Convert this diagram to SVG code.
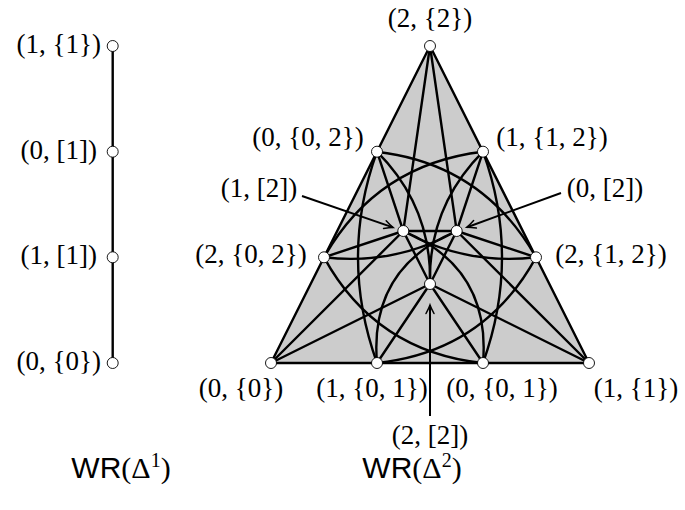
<svg xmlns="http://www.w3.org/2000/svg" width="685" height="510" viewBox="0 0 685 510">
<defs>
<style>
.e{fill:none;stroke:#000;stroke-width:2.4;stroke-linecap:round;stroke-linejoin:round}
.n{fill:#fff;stroke:#000;stroke-width:0.9}
.t{font-family:"Liberation Serif","Times New Roman",serif;font-size:27px;fill:#000;text-anchor:middle}
.w{font-size:30px}
.s{font-family:"Liberation Sans",Arial,sans-serif}
.a{fill:none;stroke:#000;stroke-width:2}
</style>
<marker id="arr" markerUnits="userSpaceOnUse" markerWidth="14" markerHeight="12" viewBox="-10 -6 12 12" refX="0" refY="0" orient="auto">
<path d="M-8.5,-4 Q-3,-1 0,0 Q-3,1 -8.5,4" fill="none" stroke="#000" stroke-width="1.5" stroke-linecap="round"/>
</marker>
</defs>
<rect width="685" height="510" fill="#fff"/>
<polygon id="face" points="271,363 589,363 430,46" fill="#cccccc"/>
<g id="connectors">
<path class="e" d="M112.7,46 L112.7,363"/>
<path class="e" d="M271,363 L589,363"/>
<path class="e" d="M271,363 L430,46"/>
<path class="e" d="M589,363 L430,46"/>
<path class="e" d="M403.3,231 L456.7,231"/>
<path class="e" d="M403.3,231 L430,284"/>
<path class="e" d="M456.7,231 L430,284"/>
<path class="e" d="M271,363 L403.3,231"/>
<path class="e" d="M271,363 L430,284"/>
<path class="e" d="M589,363 L456.7,231"/>
<path class="e" d="M589,363 L430,284"/>
<path class="e" d="M430,46 L403.3,231"/>
<path class="e" d="M430,46 L456.7,231"/>
<path class="e" d="M377,151.7 L403.3,231"/>
<path class="e" d="M483,151.7 L456.7,231"/>
<path class="e" d="M324,257.3 L403.3,231"/>
<path class="e" d="M536,257.3 L456.7,231"/>
<path class="e" d="M377,363 L430,284"/>
<path class="e" d="M483,363 L430,284"/>
<path class="e" d="M377,151.7 Q432,207 430,284"/>
<path class="e" d="M483,151.7 Q428,207 430,284"/>
<path class="e" d="M377,363 Q368.9,268 456.7,231"/>
<path class="e" d="M483,363 Q491.1,268 403.3,231"/>
<path class="e" d="M324,257.3 Q394.6,265.6 456.7,231"/>
<path class="e" d="M536,257.3 Q465.4,265.6 403.3,231"/>
<path class="e" d="M377,151.7 Q339,257.3 377,363"/>
<path class="e" d="M483,151.7 Q521,257.3 483,363"/>
<path class="e" d="M377,151.7 Q483.1,164.1 536,257.3"/>
<path class="e" d="M483,151.7 Q376.9,164.1 324,257.3"/>
<path class="e" d="M377,363 Q484.25,351.6 536,257.3"/>
<path class="e" d="M483,363 Q375.75,351.6 324,257.3"/>
<path class="a" d="M302,196 L392.9,227.4" marker-end="url(#arr)"/>
<path class="a" d="M561,193 L467,227.2" marker-end="url(#arr)"/>
<path class="a" d="M430,416 L430,305" marker-end="url(#arr)"/>
</g>
<g id="L_1_1"><circle class="n" cx="112.7" cy="46" r="5.5"/><text class="t" x="58.7" y="53">(1, {1})</text></g>
<g id="L_0_b1"><circle class="n" cx="112.7" cy="151.7" r="5.5"/><text class="t" x="58.7" y="159">(0, [1])</text></g>
<g id="L_1_b1"><circle class="n" cx="112.7" cy="257.3" r="5.5"/><text class="t" x="58.7" y="264">(1, [1])</text></g>
<g id="L_0_0"><circle class="n" cx="112.7" cy="363" r="5.5"/><text class="t" x="58.7" y="370">(0, {0})</text></g>
<g id="n_2_2"><circle class="n" cx="430" cy="46" r="5.5"/><text class="t" x="430" y="27">(2, {2})</text></g>
<g id="n_0_02"><circle class="n" cx="377" cy="151.7" r="5.5"/><text class="t" x="308" y="146">(0, {0, 2})</text></g>
<g id="n_1_12"><circle class="n" cx="483" cy="151.7" r="5.5"/><text class="t" x="552" y="146">(1, {1, 2})</text></g>
<g id="n_2_02"><circle class="n" cx="324" cy="257.3" r="5.5"/><text class="t" x="251" y="263">(2, {0, 2})</text></g>
<g id="n_2_12"><circle class="n" cx="536" cy="257.3" r="5.5"/><text class="t" x="611" y="263">(2, {1, 2})</text></g>
<g id="n_0_0"><circle class="n" cx="271" cy="363" r="5.5"/><text class="t" x="241" y="397">(0, {0})</text></g>
<g id="n_1_01"><circle class="n" cx="377" cy="363" r="5.5"/><text class="t" x="372" y="397">(1, {0, 1})</text></g>
<g id="n_0_01"><circle class="n" cx="483" cy="363" r="5.5"/><text class="t" x="502" y="397">(0, {0, 1})</text></g>
<g id="n_1_1"><circle class="n" cx="589" cy="363" r="5.5"/><text class="t" x="636" y="397">(1, {1})</text></g>
<g id="n_1_b2"><circle class="n" cx="403.3" cy="231" r="5.5"/><text class="t" x="259" y="197">(1, [2])</text></g>
<g id="n_0_b2"><circle class="n" cx="456.7" cy="231" r="5.5"/><text class="t" x="605" y="197">(0, [2])</text></g>
<g id="n_2_b2"><circle class="n" cx="430" cy="284" r="5.5"/><text class="t" x="430" y="444">(2, [2])</text></g>
<g id="title1"><text class="t w" x="121" y="478"><tspan class="s">WR</tspan>(Δ<tspan font-size="20" dy="-11">1</tspan><tspan dy="11">)</tspan></text></g>
<g id="title2"><text class="t w" x="412" y="478"><tspan class="s">WR</tspan>(Δ<tspan font-size="20" dy="-11">2</tspan><tspan dy="11">)</tspan></text></g>
</svg>
